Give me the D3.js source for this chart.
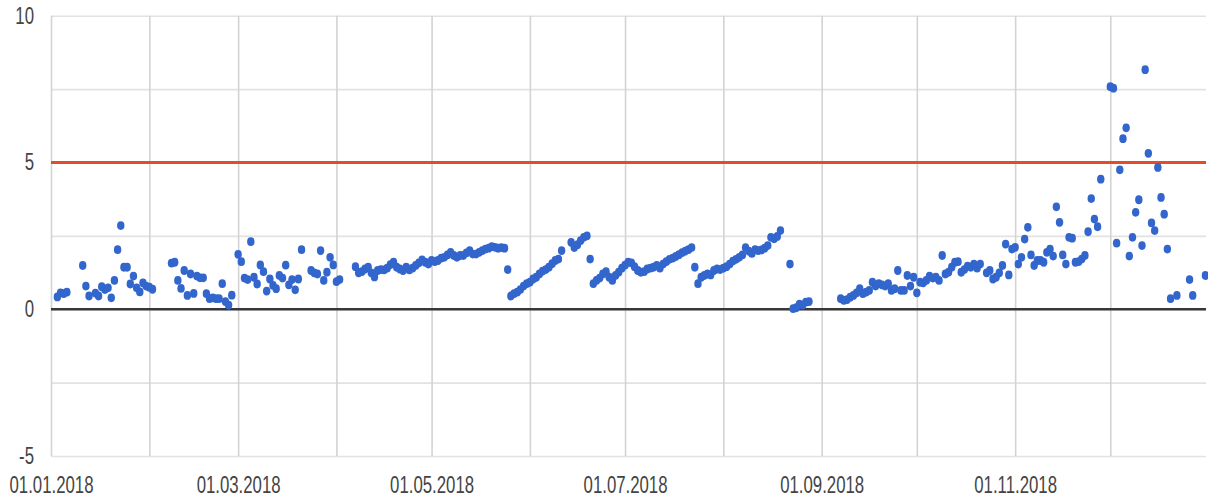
<!DOCTYPE html>
<html>
<head>
<meta charset="utf-8">
<script src="https://cdn.jsdelivr.net/npm/d3@7"></script>
<style>
  body { margin: 0; background: #fff; }
  svg { display: block; }
</style>
</head>
<body>
<svg id="chart" width="1208" height="497"></svg>
<script>
// daily values for 2018, one array per month (null = no reading that day)
var jan = [null,null,0.42,0.56,0.53,0.58,null,null,null,null,1.49,0.79,0.45,null,0.55,0.45,0.77,0.67,0.73,0.39,0.98,2.03,2.85,1.43,1.43,0.86,1.13,0.73,0.59,0.9,0.79]
var feb = [0.75,0.68,null,null,null,null,null,1.57,1.6,0.98,0.71,1.32,0.47,1.2,0.54,1.13,1.07,1.07,0.53,0.36,0.39,0.36,0.36,0.87,0.26,0.14,0.48,null]
var mar = [1.87,1.62,1.06,1.01,2.3,1.09,0.86,1.51,1.28,0.62,1.03,0.81,0.7,1.15,1.06,1.5,0.83,1.01,0.66,1.03,2.03,null,null,1.32,1.24,1.2,2.0,0.98,1.26,1.77,1.51]
var apr = [0.94,1.01,null,null,null,null,1.45,1.24,1.28,1.37,1.43,1.24,1.1,1.32,1.35,1.34,1.4,1.52,1.6,1.43,1.37,1.32,1.43,1.34,1.4,1.49,1.58,1.68,1.6,1.54]
var may = [1.66,1.62,1.66,1.74,1.77,1.85,1.94,1.83,1.77,1.83,1.83,1.92,2.0,1.88,1.88,1.94,2.0,2.05,2.08,2.13,2.11,2.08,2.1,2.08,1.35,0.45,0.53,0.58,0.67,0.79,0.87]
var jun = [0.92,1.03,1.09,1.2,1.3,1.35,1.43,1.55,1.66,1.71,2.0,null,null,2.28,2.1,2.2,2.34,2.45,2.5,1.71,0.87,0.98,1.06,1.2,1.28,1.09,0.98,1.15,1.26,1.4]
var jul = [1.5,1.6,1.58,1.45,1.32,1.26,1.28,1.37,1.4,1.43,1.49,1.4,1.54,1.62,1.7,1.74,1.8,1.86,1.93,1.98,2.03,2.1,1.43,0.87,1.09,1.15,1.2,1.17,1.32,1.37,1.35]
var aug = [1.4,1.45,1.54,1.64,1.7,1.77,1.85,2.1,1.98,1.9,2.03,2.0,2.02,2.08,2.17,2.45,2.4,2.48,2.68,null,null,1.54,0.02,0.05,0.17,0.14,0.24,0.26,null,null,null]
var sep = [null,null,null,null,null,null,0.36,0.3,0.33,0.41,0.47,0.56,0.7,0.53,0.58,0.64,0.92,0.79,0.87,0.83,0.79,0.87,0.64,0.7,1.32,0.64,0.64,1.15,0.79,1.09]
var oct = [0.56,0.92,0.9,0.98,1.13,1.06,1.09,0.98,1.83,1.2,1.26,1.43,1.6,1.62,1.26,1.35,1.47,1.43,1.54,1.4,1.54,null,1.24,1.32,1.03,1.09,1.24,1.49,2.22,1.17,2.05]
var nov = [2.11,1.54,1.77,2.39,2.79,1.85,1.49,1.66,1.66,1.6,1.94,2.05,1.81,3.49,2.96,1.85,1.54,2.45,2.42,1.6,1.62,1.71,1.83,2.64,3.77,3.07,2.81,4.43,null,null]
var dec = [7.58,7.53,2.25,4.75,5.81,6.18,1.81,2.45,3.3,3.73,2.17,8.16,5.31,2.94,2.68,4.83,3.81,3.24,2.05,0.36,null,0.47,null,null,null,1.01,0.47,null,null,null,1.15]

var months = [jan,feb,mar,apr,may,jun,jul,aug,sep,oct,nov,dec]
var yGridValues = [-5,-2.5,0,2.5,5,7.5,10]
var yLabelValues = [-5,0,5,10]
var limit = 5

var points = []
months.forEach(function(arr, m){
  arr.forEach(function(v, d){
    if (v != null) points.push({date: new Date(Date.UTC(2018, m, d + 1)), value: v})
  })
})

var plotLeft = 51, plotRight = 1206, plotTop = 15.7, plotBottom = 456
var start = new Date(Date.UTC(2018,0,1)), end = new Date(Date.UTC(2019,0,1))

var x = d3.scaleUtc().domain([start, end]).range([plotLeft, 1208.6])
var y = d3.scaleLinear().domain([-5, 10]).range([plotBottom, plotTop])

var svg = d3.select("#chart")
var font = "'Liberation Sans', Arial, sans-serif"

// horizontal grid
var yGrid = svg.append("g").attr("transform","translate(" + plotLeft + ",0)")
  .call(d3.axisLeft(y).tickValues(yGridValues).tickSize(-(plotRight - plotLeft)).tickFormat(""))
yGrid.select(".domain").remove()
yGrid.selectAll("line").attr("stroke","#e2e2e2").attr("stroke-width",1.6)

// vertical grid, one line per month
var xGrid = svg.append("g").attr("transform","translate(0," + plotBottom + ")")
  .call(d3.axisBottom(x).ticks(d3.utcMonth.every(1)).tickSize(-(plotBottom - plotTop)).tickFormat(""))
xGrid.select(".domain").remove()
xGrid.selectAll("line").attr("stroke","#d3d3d3").attr("stroke-width",1.6)
xGrid.selectAll(".tick").filter(function(d){ return x(d) > plotRight }).remove()

// zero baseline and limit line
svg.append("line").attr("x1",plotLeft).attr("x2",plotRight).attr("y1",y(0)).attr("y2",y(0))
  .attr("stroke","#383838").attr("stroke-width",2.4)
svg.append("line").attr("x1",plotLeft).attr("x2",plotRight).attr("y1",y(limit)).attr("y2",y(limit))
  .attr("stroke","#e24c2b").attr("stroke-width",3)

// x labels every second month
var xLab = svg.append("g").attr("transform","translate(0," + plotBottom + ")")
  .call(d3.axisBottom(x).tickValues(d3.utcMonth.every(2).range(start, end)).tickSize(0).tickFormat(d3.utcFormat("%d.%m.%Y")))
xLab.select(".domain").remove()
xLab.attr("font-family", font).attr("font-size", 23).attr("color","#444")
xLab.selectAll("text").attr("y",0).attr("dy",0).attr("transform","translate(0,37) scale(0.73,1)")

// y labels
var yLab = svg.append("g").attr("transform","translate(" + plotLeft + ",0)")
  .call(d3.axisLeft(y).tickValues(yLabelValues).tickSize(0).tickFormat(function(d){ return String(d) }))
yLab.select(".domain").remove()
yLab.attr("font-family", font).attr("font-size", 23).attr("color","#444")
yLab.selectAll("text").attr("x",0).attr("transform","translate(-17,0) scale(0.73,1)")

// points
svg.append("g").selectAll("ellipse").data(points).enter().append("ellipse")
  .attr("cx", function(d){ return x(d.date) })
  .attr("cy", function(d){ return y(d.value) })
  .attr("rx", 3.7).attr("ry", 4.4)
  .attr("fill","#3366cc")
</script>
</body>
</html>
